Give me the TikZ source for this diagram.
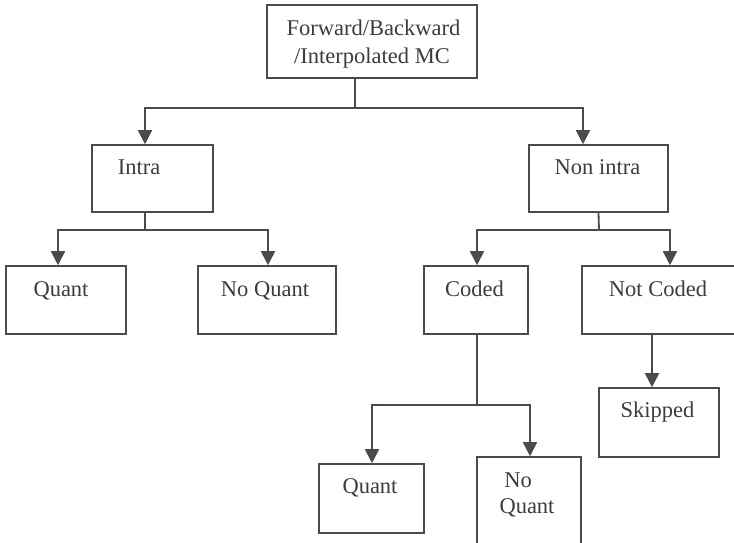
\documentclass[tikz,border=0pt]{standalone}
\usepackage{fontspec}
\setmainfont{Liberation Serif}
\usetikzlibrary{arrows.meta}
\definecolor{ink}{HTML}{4A4A50}
\begin{document}
\begin{tikzpicture}[x=1pt,y=-1pt,
  box/.style={draw=ink,line width=1.6pt,inner sep=0pt,rectangle},
  lbl/.style={anchor=base,inner sep=0pt,text=ink!80!black,font=\fontsize{22.5}{28}\selectfont},
  conn/.style={draw=ink,line width=1.8pt},
  arr/.style={conn,-{Triangle[width=14pt,length=14pt]}}]
\useasboundingbox (0,0) rectangle (734,542);
% boxes
\node[box,minimum width=210pt,minimum height=73pt] (top) at (372,41.5) {};
\node[box,minimum width=121pt,minimum height=67pt] (intra) at (152.5,178.5) {};
\node[box,minimum width=139pt,minimum height=67pt] (nonintra) at (598.5,178.5) {};
\node[box,minimum width=120pt,minimum height=68pt] (quantA) at (66,300) {};
\node[box,minimum width=138pt,minimum height=68pt] (noquantA) at (267,300) {};
\node[box,minimum width=104pt,minimum height=68pt] (coded) at (476,300) {};
\node[box,minimum width=156pt,minimum height=68pt] (notcoded) at (660,300) {};
\node[box,minimum width=120pt,minimum height=69pt] (skipped) at (659,422.5) {};
\node[box,minimum width=105pt,minimum height=69pt] (quantB) at (371.5,498.5) {};
\node[box,minimum width=104pt,minimum height=92pt] (noquantB) at (529,503) {};
% texts
\node[lbl] (t1) at (373.5,35) {Forward/Backward};
\node[lbl] (t2) at (372,63) {/Interpolated MC};
\node[lbl] (tintra) at (139,174) {Intra};
\node[lbl] (tnonintra) at (597.5,174) {Non intra};
\node[lbl] (tquantA) at (61,296) {Quant};
\node[lbl] (tnoquantA) at (265,296) {No Quant};
\node[lbl] (tcoded) at (474.5,296) {Coded};
\node[lbl] (tnotcoded) at (658,296) {Not Coded};
\node[lbl] (tskipped) at (657.5,417) {Skipped};
\node[lbl] (tquantB) at (370,493) {Quant};
\node[lbl] (tno) at (518,487) {No};
\node[lbl] (tquantC) at (527,513) {Quant};
% junctions
\coordinate (j0) at (355,108);
\coordinate (j1) at (145,230);
\coordinate (j2) at (599,230);
\coordinate (j3) at (477,405);
% connectors
\draw[conn] ([xshift=-17pt]top.south) -- (j0);
\draw[arr] (j0) -| ([xshift=-7.5pt]intra.north);
\draw[arr] (j0) -| ([xshift=-15.5pt]nonintra.north);
\draw[conn] ([xshift=-7.5pt]intra.south) -- (j1);
\draw[arr] (j1) -| ([xshift=-8pt]quantA.north);
\draw[arr] (j1) -| ([xshift=1pt]noquantA.north);
\draw[conn] (nonintra.south) -- (j2);
\draw[arr] (j2) -| ([xshift=1pt]coded.north);
\draw[arr] (j2) -| ([xshift=10pt]notcoded.north);
\draw[conn] ([xshift=1pt]coded.south) -- (j3);
\draw[arr] (j3) -| ([xshift=0.5pt]quantB.north);
\draw[arr] (j3) -| ([xshift=1pt]noquantB.north);
\draw[arr] ([xshift=-8pt]notcoded.south) -- ([xshift=-7pt]skipped.north);
\end{tikzpicture}
\end{document}
